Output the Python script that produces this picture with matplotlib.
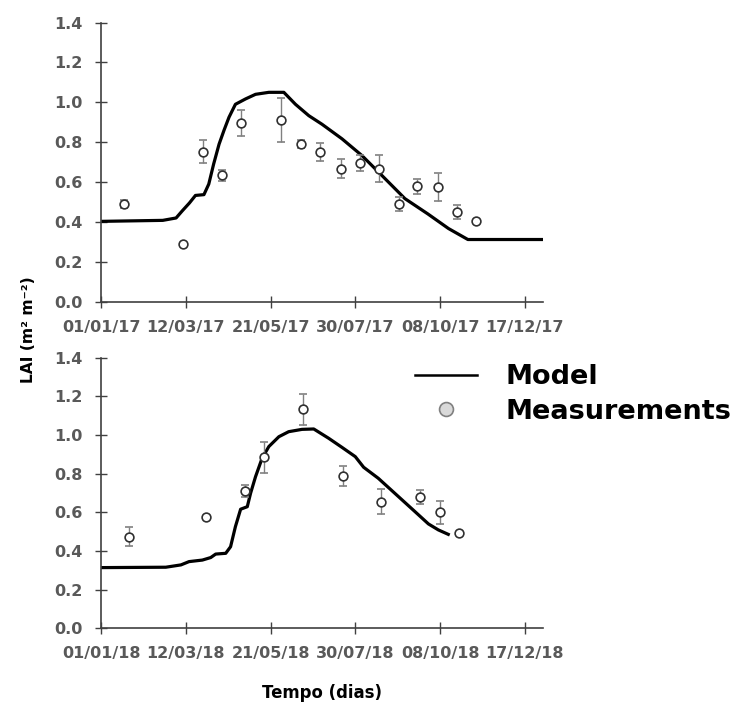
import numpy as np
import matplotlib
matplotlib.use('Agg')
import matplotlib.pyplot as plt
from matplotlib.lines import Line2D

plt.rcParams['font.family'] = ['DejaVu Sans']

# x axis = days since 1 January of each year
tick_days = [0, 70, 140, 210, 280, 350]
labels_2017 = ['01/01/17', '12/03/17', '21/05/17', '30/07/17', '08/10/17', '17/12/17']
labels_2018 = ['01/01/18', '12/03/18', '21/05/18', '30/07/18', '08/10/18', '17/12/18']
y_ticks = [0.0, 0.2, 0.4, 0.6, 0.8, 1.0, 1.2, 1.4]

# 2017 model (LAI)
model17_day = [0, 51, 62, 67, 73, 78, 85, 89, 93, 97.5, 101.6, 105.7, 111, 119.4, 127.6,
               138.6, 151, 160.6, 171.6, 182.5, 199, 215.5, 232, 251, 270, 287, 303, 364]
model17_lai = [0.403, 0.408, 0.42, 0.455, 0.495, 0.533, 0.537, 0.59, 0.69, 0.79, 0.86, 0.925,
               0.99, 1.017, 1.04, 1.05, 1.05, 0.99, 0.933, 0.89, 0.817, 0.733, 0.633, 0.517,
               0.44, 0.367, 0.312, 0.312]

# 2017 measurements
obs17_day = [19, 68, 84, 100, 116, 149, 165, 181, 198, 214, 230, 246, 261, 278, 294, 310]
obs17_lai = [0.49, 0.287, 0.753, 0.633, 0.897, 0.912, 0.792, 0.753, 0.667, 0.695, 0.667,
             0.488, 0.578, 0.575, 0.45, 0.403]
obs17_err = [0.02, 0.0, 0.058, 0.03, 0.065, 0.11, 0.02, 0.045, 0.048, 0.04, 0.067,
             0.035, 0.036, 0.07, 0.033, 0.0]

# 2018 model (LAI)
model18_day = [0, 53.5, 66, 72.7, 83.7, 90.6, 94.7, 103, 107, 111, 115.3, 120.8, 123.5, 127.6,
               133, 138.6, 146.9, 155, 166, 175.7, 188, 199, 210, 216.9, 229, 245.7, 259.4,
               270.4, 278.6, 286.8]
model18_lai = [0.314, 0.316, 0.328, 0.345, 0.353, 0.366, 0.384, 0.388, 0.422, 0.526, 0.616,
               0.629, 0.698, 0.784, 0.879, 0.94, 0.991, 1.017, 1.029, 1.031, 0.983, 0.936,
               0.888, 0.833, 0.776, 0.681, 0.603, 0.54, 0.509, 0.486]

# 2018 measurements
obs18_day = [23, 87, 119, 135, 167, 200, 231, 263.5, 280, 296]
obs18_lai = [0.474, 0.574, 0.71, 0.884, 1.133, 0.788, 0.655, 0.678, 0.6, 0.491]
obs18_err = [0.05, 0.0, 0.03, 0.08, 0.08, 0.052, 0.066, 0.037, 0.058, 0.0]

label_color = '#595959'
axis_color = '#404040'


def draw_panel(ax, mday, mlai, oday, olai, oerr, xlabels):
    ax.plot(mday, mlai, color='black', lw=2.3, zorder=2)
    ax.errorbar(oday, olai, yerr=oerr, fmt='o', ms=6.3, mfc='white', mec='#303030', mew=1.2,
                ecolor='#808080', elinewidth=1.0, capsize=3, capthick=1.0, zorder=3)
    ax.set_xlim(0, 365)
    ax.set_ylim(0, 1.4)
    ax.set_xticks(tick_days)
    ax.set_xticklabels(xlabels)
    ax.set_yticks(y_ticks)
    ax.set_yticklabels(['%.1f' % v for v in y_ticks])
    for s in ['top', 'right']:
        ax.spines[s].set_visible(False)
    for s in ['left', 'bottom']:
        ax.spines[s].set_color(axis_color)
        ax.spines[s].set_linewidth(1.2)
    ax.tick_params(direction='inout', length=9, width=1.0, color=axis_color,
                   labelcolor=label_color, labelsize=11.5, pad=8.5)
    for t in ax.get_xticklabels() + ax.get_yticklabels():
        t.set_fontweight('bold')


fig = plt.figure(figsize=(7.39, 7.04), dpi=100)
ax1 = fig.add_axes([0.1367, 0.5714, 0.598, 0.3966])
ax2 = fig.add_axes([0.1367, 0.1075, 0.598, 0.3845])

draw_panel(ax1, model17_day, model17_lai, obs17_day, obs17_lai, obs17_err, labels_2017)
draw_panel(ax2, model18_day, model18_lai, obs18_day, obs18_lai, obs18_err, labels_2018)

ax2.set_xlabel('Tempo (dias)', fontsize=11.9, fontweight='bold', labelpad=16)
fig.text(0.038, 1 - 330 / 704, 'LAI (m² m⁻²)', rotation=90, ha='center', va='center',
         fontsize=11.2, fontweight='bold')

handles = [Line2D([], [], color='black', lw=1.8),
           Line2D([], [], ls='none', marker='o', ms=10, mfc='#d9d9d9', mec='#808080', mew=1.2)]
fig.legend(handles, ['Model', 'Measurements'], loc='upper left',
           bbox_to_anchor=(415 / 739, 1 - 364 / 704), frameon=False, borderpad=0,
           borderaxespad=0, handlelength=2.3, handletextpad=1.05, labelspacing=0.32,
           prop={'size': 19.5, 'weight': 'bold'})

fig.savefig('out.png', dpi=100)
